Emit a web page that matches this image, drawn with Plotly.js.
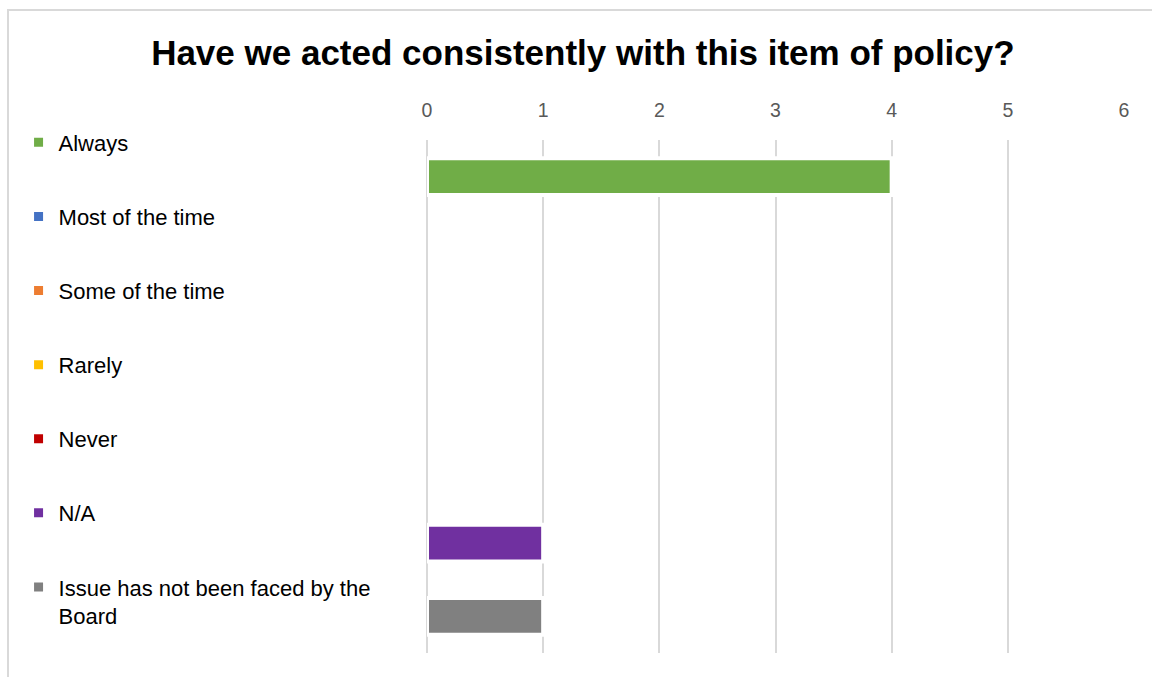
<!DOCTYPE html>
<html>
<head>
<meta charset="utf-8">
<script src="https://cdn.plot.ly/plotly-3.0.1.min.js"></script>
<style>
html,body{margin:0;padding:0;background:#fff;width:1152px;height:677px;overflow:hidden;}
#chart{position:absolute;left:0;top:0;width:1152px;height:677px;}
#frame{position:absolute;left:7px;top:9px;width:1160px;height:690px;border:2px solid #d9d9d9;pointer-events:none;box-sizing:border-box;}
</style>
</head>
<body>
<div id="chart"></div>
<div id="frame"></div>
<script>
var chartTitle = "Have we acted consistently with this item of policy?";
var categories = ["Always", "Most of the time", "Some of the time", "Rarely", "Never", "N/A", "Issue has not been faced by the Board"];
var legendLabels = ["Always", "Most of the time", "Some of the time", "Rarely", "Never", "N/A", "Issue has not been faced by the<br>Board"];
var counts = [4, 0, 0, 0, 0, 1, 1];
var colors = ["#70AD47", "#4472C4", "#ED7D31", "#FFC000", "#C00000", "#7030A0", "#808080"];
var tickValues = [0, 1, 2, 3, 4, 5, 6];

var FONT = "Liberation Sans, Arial, sans-serif";
var traces = [];
categories.forEach(function (c, i) {
  traces.push({
    type: "bar",
    orientation: "h",
    x: [counts[i]],
    y: [c],
    width: 0.5,
    marker: {color: colors[i], line: {color: "#ffffff", width: counts[i] > 0 ? 4 : 0}},
    showlegend: false,
    hoverinfo: "x+y"
  });
});
categories.forEach(function (c, i) {
  traces.push({
    type: "scatter",
    mode: "markers",
    x: [null],
    y: [null],
    name: legendLabels[i],
    legendgroup: "g" + i,
    marker: {symbol: "square", size: 9, color: colors[i]},
    showlegend: true
  });
});

var layout = {
  width: 1152,
  height: 677,
  margin: {l: 427, r: 28, t: 140, b: 24.4, pad: 0},
  paper_bgcolor: "rgba(0,0,0,0)",
  plot_bgcolor: "rgba(0,0,0,0)",
  title: {
    text: "<b>" + chartTitle + "</b>",
    font: {family: FONT, size: 35, color: "#000000"},
    x: 0.506, xref: "container", xanchor: "center",
    y: 0.922, yref: "container", yanchor: "middle"
  },
  barmode: "overlay",
  xaxis: {
    side: "top",
    range: [0, 6],
    tickvals: tickValues,
    ticktext: tickValues.map(String),
    showgrid: true,
    gridcolor: "#d9d9d9",
    gridwidth: 2,
    zeroline: true,
    zerolinecolor: "#d9d9d9",
    zerolinewidth: 2,
    showline: false,
    ticks: "outside",
    ticklen: 14,
    tickcolor: "rgba(0,0,0,0)",
    tickfont: {family: FONT, size: 19.5, color: "#595959"},
    fixedrange: true
  },
  yaxis: {
    type: "category",
    categoryorder: "array",
    categoryarray: categories,
    autorange: "reversed",
    showticklabels: false,
    showgrid: false,
    zeroline: false,
    showline: false,
    ticks: "",
    fixedrange: true
  },
  showlegend: true,
  legend: {
    x: -0.586, xanchor: "left",
    y: 1.036, yanchor: "top",
    traceorder: "grouped",
    tracegroupgap: 42.5,
    maxheight: 660,
    valign: "top",
    font: {family: FONT, size: 22, color: "#000000"},
    bgcolor: "rgba(0,0,0,0)",
    itemclick: false,
    itemdoubleclick: false
  },
  font: {family: FONT}
};

Plotly.newPlot("chart", traces, layout, {displayModeBar: false, staticPlot: true});
</script>
</body>
</html>
